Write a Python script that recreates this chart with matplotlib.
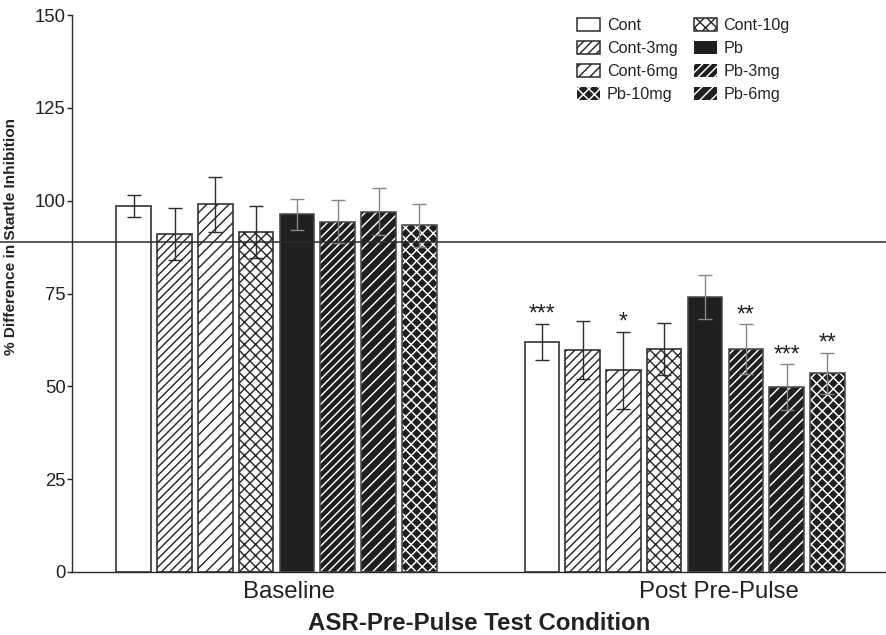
import matplotlib
matplotlib.use("Agg")
import matplotlib.pyplot as plt
import matplotlib.transforms as mtransforms
from matplotlib.lines import Line2D
from matplotlib.patches import Patch

plt.rcParams['font.family'] = ['Liberation Sans', 'DejaVu Sans']
plt.rcParams['hatch.linewidth'] = 1.05

# ---- data -------------------------------------------------------------
groups = ['Baseline', 'Post Pre-Pulse']
conditions = ['Cont', 'Cont-3mg', 'Cont-6mg', 'Cont-10g',
              'Pb', 'Pb-3mg', 'Pb-6mg', 'Pb-10mg']
baseline_mean = [98.5, 91.0, 99.0, 91.5, 96.3, 94.3, 97.0, 93.4]
baseline_sem = [3.0, 7.0, 7.5, 7.0, 4.2, 5.8, 6.3, 5.8]
post_mean = [62.0, 59.7, 54.3, 60.0, 74.0, 60.0, 49.8, 53.5]
post_sem = [4.8, 7.8, 10.4, 7.0, 6.0, 6.7, 6.1, 5.5]
post_sig = ['***', '', '*', '', '', '**', '***', '**']
reference_level = 89.0
yticks = [0, 25, 50, 75, 100, 125, 150]
legend_order = [0, 1, 2, 7, 3, 4, 5, 6]

# ---- styling ----------------------------------------------------------
DARK = '#1f1f1f'
EDGE = '#2b2b2b'
face = ['white'] * 4 + [DARK] * 4
hatch = ['', '////', '///', 'xxx', '', '////', '///', 'xxx']
err_col = ['#2b2b2b'] * 4 + ['#858585'] * 4

DPI = 100
fig = plt.figure(figsize=(8.87, 6.35), dpi=DPI)
ax = fig.add_axes([72 / 887, 63 / 635, 815 / 887, 557 / 635])

group_start = [0, 10]
width = 0.845
for g, (means, sems) in enumerate([(baseline_mean, baseline_sem),
                                    (post_mean, post_sem)]):
    for i, (m, s) in enumerate(zip(means, sems)):
        x = group_start[g] + i
        if face[i] == 'white':
            ax.bar(x, m, width, color='white', edgecolor=EDGE,
                   hatch=hatch[i] or None, linewidth=1.15, zorder=2)
        else:
            ax.bar(x, m, width, color=DARK, edgecolor='white',
                   hatch=hatch[i] or None, linewidth=0, zorder=2)
            ax.bar(x, m, width, fill=False, edgecolor='#4a4a4a',
                   linewidth=1.15, zorder=3)
        ax.errorbar(x, m, yerr=s, fmt='none', ecolor=err_col[i],
                    elinewidth=1.0, capsize=5.3, capthick=1.0, zorder=4)
        if g == 1 and post_sig[i]:
            ax.text(x, m + s + 2.6, post_sig[i], ha='center',
                    va='center', fontsize=16.5, color='#222222')

# reference level spanning the full figure width
trans = mtransforms.blended_transform_factory(fig.transFigure, ax.transData)
fig.add_artist(Line2D([0, 1], [reference_level, reference_level],
                      transform=trans, color='#2b2b2b', linewidth=1.1,
                      zorder=5))

ax.set_xlim(-1.512, 18.46)
ax.set_ylim(0, 150)
ax.set_yticks(yticks)
ax.tick_params(axis='y', direction='out', length=3.7, width=1.0,
               labelsize=13.3, pad=0.8, colors='#222222')
ax.set_xticks([3.81, 14.34])
ax.set_xticklabels(groups)
ax.tick_params(axis='x', length=0, labelsize=17.3, pad=6.5,
               colors='#222222')

for side in ('top', 'right'):
    ax.spines[side].set_visible(False)
for side in ('left', 'bottom'):
    ax.spines[side].set_linewidth(1.0)
    ax.spines[side].set_color('#2b2b2b')

ax.set_xlabel('ASR-Pre-Pulse Test Condition', fontsize=17.3,
              fontweight='bold', color='#222222', labelpad=6.5)
ax.set_ylabel('% Difference in Startle Inhibition', fontsize=11.1,
              fontweight='bold', color='#222222')
ax.yaxis.set_label_coords(-0.0663, 0.602)

# legend with proxy patches
handles = []
for i in range(len(conditions)):
    if face[i] == 'white':
        handles.append(Patch(facecolor='white', edgecolor=EDGE,
                             hatch=hatch[i] or None, linewidth=1.1))
    else:
        handles.append(Patch(facecolor=DARK, edgecolor='white',
                             hatch=hatch[i] or None, linewidth=0))
leg = fig.legend([handles[k] for k in legend_order],
                 [conditions[k] for k in legend_order],
                 ncol=2, loc='upper left',
                 bbox_to_anchor=(577 / 887, 1 - 18 / 635),
                 frameon=False, fontsize=11.6, borderpad=0,
                 borderaxespad=0, handlelength=1.45, handleheight=0.8,
                 handletextpad=0.4, labelspacing=0.5, columnspacing=1.0)
for t in leg.get_texts():
    t.set_color('#222222')

fig.savefig('out.png', dpi=DPI)
